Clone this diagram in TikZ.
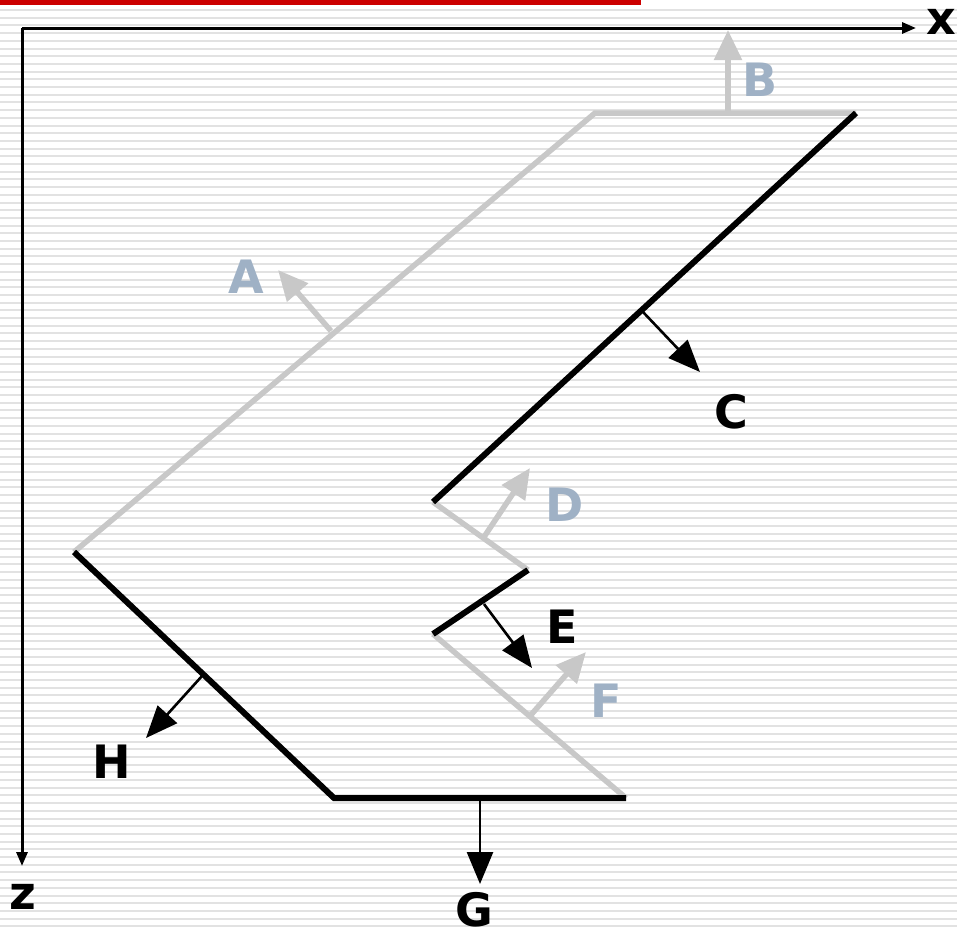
\documentclass[tikz,border=0pt]{standalone}
\usepackage{fontspec}
\setmainfont{DejaVu Sans}
\usetikzlibrary{arrows.meta}
\definecolor{facegray}{HTML}{C8C8C8}
\definecolor{labelblue}{HTML}{9FB1C5}
\definecolor{stripe}{HTML}{E2E2E2}
\definecolor{barred}{HTML}{CC0000}
\begin{document}
\begin{tikzpicture}[x=1pt, y=-1pt,
  lbl/.style={font=\fontsize{46}{46}\selectfont\bfseries, inner sep=0pt},
  graylbl/.style={lbl, text=labelblue},
  face/.style={line width=6pt, black},
  backface/.style={line width=5.5pt, facegray},
  normal/.style={line width=2.6pt, -{Triangle[length=32pt,width=26pt]}},
  grnormal/.style={line width=5.5pt, facegray, -{Triangle[length=30pt,width=27pt]}},
  axis/.style={line width=3pt, -{Triangle[length=14pt,width=11pt]}}]
\useasboundingbox (0,0) rectangle (957,932);
\fill[white] (0,0) rectangle (957,932);
% background stripes
\foreach \y in {0,...,120}
  \draw[stripe, line width=2pt] (0,10+7.7*\y) -- (957,10+7.7*\y);
\fill[barred] (0,0) rectangle (641,5);
% axes
\coordinate (O) at (22,28);
\coordinate (xend) at (916,28);
\coordinate (zend) at (22,866);
\draw[axis] (O) -- (xend);
\draw[axis] (O) -- (zend);
\node[lbl] (xlbl) at (941,22) {x};
\node[lbl] (zlbl) at (23,897) {z};
% polygon corners
\coordinate (p1) at (595,113);
\coordinate (p2) at (856,113);
\coordinate (p3) at (433,502);
\coordinate (p4) at (528,570);
\coordinate (p5) at (433,634);
\coordinate (p6) at (626,798);
\coordinate (p7) at (334,798);
\coordinate (p8) at (74,552);
% hidden faces
\draw[backface] (p2) -- (p1) -- (p8);
\draw[backface] (p3) -- (p4);
\draw[backface] (p5) -- (p6);
% visible faces
\draw[face] (p2) -- (p3);
\draw[face] (p4) -- (p5);
\draw[face] (p6) -- (p7) -- (p8);
% normals
\coordinate (a0) at (331,331); \coordinate (a1) at (278,270);
\coordinate (b0) at (728,113); \coordinate (b1) at (728,30);
\coordinate (c0) at (643,312); \coordinate (c1) at (700,372);
\coordinate (d0) at (484,537); \coordinate (d1) at (530,468);
\coordinate (e0) at (484,604); \coordinate (e1) at (532,668);
\coordinate (f0) at (530,716); \coordinate (f1) at (586,652);
\coordinate (g0) at (480,798); \coordinate (g1) at (480,884);
\coordinate (h0) at (202,676); \coordinate (h1) at (146,738);
\draw[grnormal] (a0) -- (a1);
\draw[grnormal] (b0) -- (b1);
\draw[normal] (c0) -- (c1);
\draw[grnormal] (d0) -- (d1);
\draw[normal] (e0) -- (e1);
\draw[grnormal] (f0) -- (f1);
\draw[normal] (g0) -- (g1);
\draw[normal] (h0) -- (h1);
% labels
\node[graylbl] (A) at (246,277) {A};
\node[graylbl] (B) at (760,80) {B};
\node[lbl] (C) at (731,412) {C};
\node[graylbl] (D) at (565,505) {D};
\node[lbl] (E) at (562,627) {E};
\node[graylbl] (F) at (606,701) {F};
\node[lbl] (G) at (474,910) {G};
\node[lbl] (H) at (112,762) {H};
\end{tikzpicture}
\end{document}
